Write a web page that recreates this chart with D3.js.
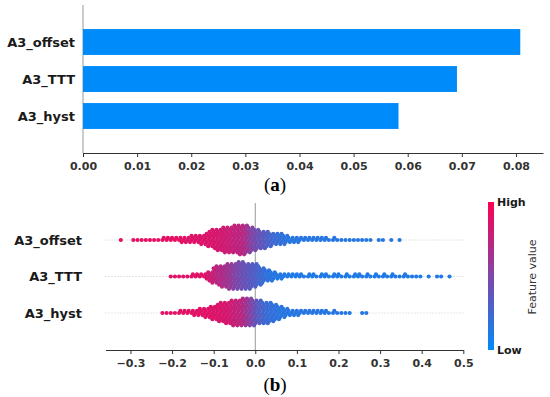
<html>
  <head>
    <meta charset="utf-8">
    <style>
      body { margin: 0; background: #fff; }
      .tick text { font-family: "DejaVu Sans"; font-weight: bold; font-size: 11px; fill: #333; }
      .tick line, .domain { stroke: #333; }
      .feat { font-family: "DejaVu Sans"; font-weight: bold; font-size: 13px; fill: #1a1a1a; }
      .cap { font-family: "Liberation Serif"; font-size: 19px; fill: #000; }
    </style>
  </head>
  <body>
    <div id="main"></div>
    <script src="https://d3js.org/d3.v7.min.js"></script>
    <script>
      // features, top to bottom
      var features = ["A3_offset", "A3_TTT", "A3_hyst"];
      // mean |SHAP| per feature (panel a)
      var importance = [0.0808, 0.0691, 0.0583];
      var barTicks = [0, 0.01, 0.02, 0.03, 0.04, 0.05, 0.06, 0.07, 0.08];
      var swarmTicks = [-0.3, -0.2, -0.1, 0.0, 0.1, 0.2, 0.3, 0.4, 0.5];

      // panel b: SHAP values binned by 0.01, first bin centre per feature
      var binStart = [-0.32, -0.20, -0.22];
      var offsetCounts = [1,0,0,1,1,1,1,1,1,1, 2,2,2,2,3,3,3,4,4,5, 6,8,10,11,12,13,13,14,15,15,
                          14,13,11,10,9,8,7,6,6,5, 4,3,3,2,2,2,2,2,2,2, 1,2,1,1,1,1,1,1,1,1, 1,0,1,1,0,1,0,1];
      var offsetFeat = [0.9,0.9,0.9,0.9,0.9,0.9,0.9,0.9,0.9,0.9,
                        0.9,0.9,0.9,0.9,0.9,0.88,0.88,0.88,0.86,0.86,
                        0.86,0.85,0.85,0.82,0.82,0.8,0.78,0.76,0.74,0.72,
                        0.62,0.52,0.45,0.4,0.35,0.3,0.26,0.22,0.2,0.18,
                        0.15,0.15,0.15,0.15,0.15,0.15,0.15,0.15,0.15,0.15,
                        0.15,0.15,0.15,0.15,0.15,0.15,0.15,0.15,0.15,0.15,
                        0.15,0.15,0.15,0.15,0.15,0.15,0.15,0.15];
      var tttCounts = [1,1,1,1,1,2,2,2,3,5, 8,10,11,12,13,13,14,14,13,13, 12,10,8,6,5,4,3,2,2,2,
                       2,2,1,2,2,1,2,2,1,2, 2,1,2,1,2,2,1,2,1,2, 1,2,1,2,1,1,2,1,1,1, 1,0,1,0,1,1,0,1];
      var tttFeat = [0.88,0.88,0.88,0.88,0.88,0.88,0.88,0.88,0.86,0.82,
                     0.76,0.72,0.68,0.64,0.58,0.52,0.46,0.42,0.38,0.35,
                     0.3,0.26,0.22,0.18,0.16,0.14,0.14,0.14,0.12,0.12,
                     0.12,0.12,0.12,0.12,0.12,0.12,0.12,0.12,0.12,0.12,
                     0.12,0.12,0.12,0.12,0.12,0.12,0.12,0.12,0.12,0.12,
                     0.12,0.12,0.12,0.12,0.12,0.12,0.12,0.12,0.12,0.12,
                     0.12,0.12,0.12,0.12,0.12,0.12,0.12,0.12];
      var hystCounts = [1,1,1,1,2,2,2,3,3,4, 5,6,7,9,10,11,12,13,13,14, 14,14,13,12,11,11,10,8,7,5,
                        4,3,3,2,2,2,2,2,2,2, 1,2,1,1,1,1,0,0,1,1];
      var hystFeat = [0.88,0.88,0.88,0.88,0.88,0.88,0.88,0.88,0.88,0.88,
                      0.88,0.88,0.86,0.86,0.84,0.84,0.8,0.78,0.74,0.7,
                      0.6,0.5,0.4,0.32,0.26,0.22,0.2,0.18,0.16,0.15,
                      0.15,0.15,0.15,0.15,0.15,0.15,0.15,0.15,0.15,0.15,
                      0.15,0.15,0.15,0.15,0.15,0.15,0.15,0.15,0.15,0.15];
      var swarmCounts = [offsetCounts, tttCounts, hystCounts];
      var swarmFeat = [offsetFeat, tttFeat, hystFeat];

      var blue = "#008bfb", red = "#ff0052";
      var colorFeat = d3.interpolateRgb(blue, red);

      var svg = d3.select("#main").append("svg")
          .attr("width", 550).attr("height", 397)
          .style("display", "block");

      // ---------- panel a: bar chart ----------
      var xa = d3.scaleLinear().domain([0, 0.085]).range([83, 543]);
      var ya = d3.scaleBand().domain(features).range([23.5, 134.5])
          .paddingInner(0.3).paddingOuter(0.15);

      svg.append("line")
          .attr("x1", xa(0)).attr("x2", xa(0))
          .attr("y1", 5).attr("y2", 153)
          .attr("stroke", "#999").attr("stroke-width", 1);

      svg.selectAll("rect.bar")
          .data(features)
          .enter().append("rect")
          .attr("class", "bar")
          .attr("x", xa(0))
          .attr("y", function(d) { return ya(d); })
          .attr("width", function(d, i) { return xa(importance[i]) - xa(0); })
          .attr("height", ya.bandwidth())
          .attr("fill", blue);

      svg.append("g")
          .attr("transform", "translate(0,153)")
          .call(d3.axisBottom(xa).tickValues(barTicks).tickFormat(d3.format(".2f"))
              .tickSize(4).tickSizeOuter(0))
          .selectAll(".tick text").attr("dy", "0.9em");

      svg.selectAll("text.fa")
          .data(features)
          .enter().append("text")
          .attr("class", "feat fa")
          .attr("x", 75)
          .attr("y", function(d) { return ya(d) + ya.bandwidth() / 2; })
          .attr("dy", "0.35em")
          .attr("text-anchor", "end")
          .text(function(d) { return d; });

      var capA = svg.append("text").attr("class", "cap")
          .attr("x", 275).attr("y", 191).attr("text-anchor", "middle");
      capA.append("tspan").text("(");
      capA.append("tspan").attr("font-weight", "bold").text("a");
      capA.append("tspan").text(")");

      // ---------- panel b: beeswarm ----------
      var xb = d3.scaleLinear().domain([-0.36, 0.5]).range([105.5, 463.3]);
      var yb = d3.scalePoint().domain(features).range([240, 313]);

      svg.selectAll("line.grid")
          .data(features)
          .enter().append("line")
          .attr("class", "grid")
          .attr("x1", xb(-0.36)).attr("x2", xb(0.5))
          .attr("y1", function(d) { return yb(d); })
          .attr("y2", function(d) { return yb(d); })
          .attr("stroke", "#ccc").attr("stroke-dasharray", "1,2");

      svg.append("line")
          .attr("x1", xb(0)).attr("x2", xb(0))
          .attr("y1", 203).attr("y2", 350)
          .attr("stroke", "#999").attr("stroke-width", 1);

      var dots = [];
      features.forEach(function(f, r) {
          swarmCounts[r].forEach(function(n, i) {
              var v = binStart[r] + i * 0.01;
              for (var k = 0; k < n; k++) {
                  var side = k % 2 === 0 ? 1 : -1;
                  dots.push({
                      x: xb(v) + ((k % 3) - 1) * 1.3,
                      y: yb(f) + side * Math.ceil(k / 2) * 2.05,
                      c: colorFeat(swarmFeat[r][i]),
                      k: k
                  });
              }
          });
      });
      dots.sort(function(a, b) { return b.k - a.k; });

      svg.selectAll("circle.dot")
          .data(dots)
          .enter().append("circle")
          .attr("class", "dot")
          .attr("cx", function(d) { return d.x; })
          .attr("cy", function(d) { return d.y; })
          .attr("r", 2.1)
          .attr("fill", function(d) { return d.c; });

      svg.append("g")
          .attr("transform", "translate(0,350)")
          .call(d3.axisBottom(xb).tickValues(swarmTicks).tickFormat(d3.format(".1f"))
              .tickSize(4).tickSizeOuter(0))
          .selectAll(".tick text").attr("dy", "0.9em");

      svg.selectAll("text.fb")
          .data(features)
          .enter().append("text")
          .attr("class", "feat fb")
          .attr("x", 82)
          .attr("y", function(d) { return yb(d); })
          .attr("dy", "0.35em")
          .attr("text-anchor", "end")
          .text(function(d) { return d; });

      // colour bar
      var grad = svg.append("defs").append("linearGradient")
          .attr("id", "fv").attr("x1", 0).attr("y1", 1).attr("x2", 0).attr("y2", 0);
      d3.range(0, 1.01, 0.1).forEach(function(t) {
          grad.append("stop").attr("offset", t).attr("stop-color", colorFeat(t));
      });
      svg.append("rect")
          .attr("x", 488).attr("y", 202).attr("width", 6).attr("height", 148)
          .attr("fill", "url(#fv)");
      svg.append("text").attr("class", "feat").style("font-size", "11px")
          .attr("x", 497).attr("y", 206).text("High");
      svg.append("text").attr("class", "feat").style("font-size", "11px")
          .attr("x", 497).attr("y", 354).text("Low");
      svg.append("text")
          .attr("transform", "translate(536,277) rotate(-90)")
          .attr("text-anchor", "middle")
          .style("font-family", "DejaVu Sans").style("font-size", "11px").attr("fill", "#333")
          .text("Feature value");

      var capB = svg.append("text").attr("class", "cap")
          .attr("x", 275).attr("y", 391).attr("text-anchor", "middle");
      capB.append("tspan").text("(");
      capB.append("tspan").attr("font-weight", "bold").text("b");
      capB.append("tspan").text(")");
    </script>
  </body>
</html>
